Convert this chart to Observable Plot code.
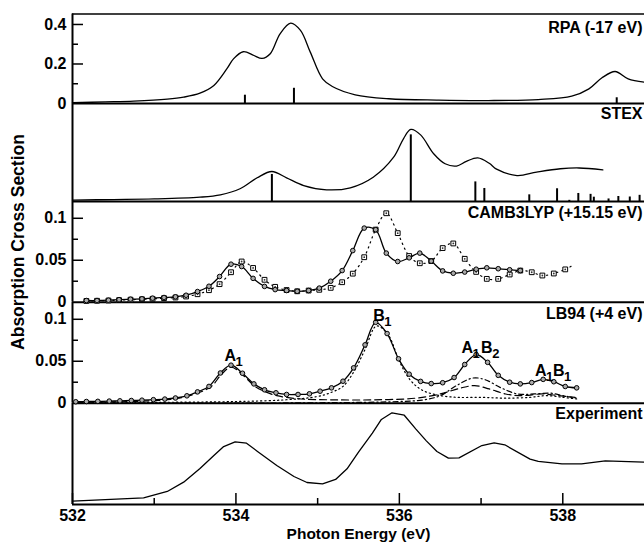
<!DOCTYPE html>
<html><head><meta charset="utf-8">
<script src="https://cdn.jsdelivr.net/npm/d3@7"></script>
<script src="https://cdn.jsdelivr.net/npm/@observablehq/plot@0.6"></script>
<style>
body{margin:0;background:#fff;}
#chart{position:relative;width:644px;height:542px;background:#fff;overflow:hidden;}
#chart svg{position:absolute;left:0;top:0;}
</style></head><body><div id="chart"></div>
<script>
// ---------- DATA ----------
const panelNames = ["RPA (-17 eV)", "STEX", "CAMB3LYP (+15.15 eV)", "LB94 (+4 eV)", "Experiment"];
const yTitle = "Absorption Cross Section";
const xTitle = "Photon Energy (eV)";
const xTickLabels = [532, 534, 536, 538];
const xMinorTicks = [533, 535, 537];

// RPA
const rpaE = [532.0, 532.4, 532.75, 533.16, 533.36, 533.56, 533.73, 533.89, 533.97, 534.09, 534.22, 534.32, 534.42, 534.54, 534.67, 534.79, 534.91, 535.06, 535.18, 535.46, 535.87, 536.48, 537.09, 537.7, 538.11, 538.32, 538.48, 538.64, 538.8, 539.0];
const rpaY = [0.004, 0.008, 0.012, 0.022, 0.032, 0.052, 0.091, 0.176, 0.226, 0.262, 0.243, 0.228, 0.252, 0.353, 0.407, 0.37, 0.26, 0.125, 0.086, 0.044, 0.024, 0.017, 0.015, 0.02, 0.037, 0.074, 0.13, 0.162, 0.125, 0.108];
const rpaStickE = [534.11, 534.71, 538.66];
const rpaStickY = [0.042, 0.077, 0.029];
const rpaTicks = [0, 0.2, 0.4];
const rpaMinor = [0.1, 0.3];

// STEX (arbitrary units)
const stexE = [532.0, 532.5, 533.0, 533.56, 533.81, 534.05, 534.26, 534.44, 534.62, 534.83, 535.11, 535.4, 535.68, 535.93, 536.05, 536.14, 536.26, 536.42, 536.56, 536.7, 536.82, 536.96, 537.1, 537.19, 537.44, 537.68, 537.97, 538.2, 538.49];
const stexY = [0.015, 0.02, 0.026, 0.044, 0.068, 0.13, 0.242, 0.306, 0.242, 0.163, 0.119, 0.14, 0.248, 0.452, 0.64, 0.735, 0.68, 0.487, 0.385, 0.362, 0.41, 0.445, 0.39, 0.33, 0.265, 0.3, 0.334, 0.342, 0.323];
const stexStickE = [534.44, 536.14, 536.93, 537.04, 537.59, 537.93, 538.08, 538.19, 538.34, 538.38, 538.56, 538.68, 538.82, 538.94];
const stexStickY = [0.276, 0.68, 0.2, 0.133, 0.068, 0.13, 0.012, 0.082, 0.073, 0.044, 0.026, 0.051, 0.046, 0.063];

// CAMB3LYP
const cambE = [532.17, 532.30, 532.44, 532.57, 532.71, 532.85, 532.98, 533.12, 533.26, 533.39, 533.53, 533.67, 533.80, 533.94, 534.07, 534.21, 534.35, 534.48, 534.62, 534.75, 534.89, 535.02, 535.16, 535.30, 535.43, 535.57, 535.71, 535.84, 535.98, 536.12, 536.25, 536.39, 536.53, 536.66, 536.80, 536.94, 537.07, 537.21, 537.35, 537.48];
const cambCircle = [0.002, 0.002, 0.0024, 0.003, 0.0036, 0.004, 0.0048, 0.0056, 0.0064, 0.0083, 0.0127, 0.019, 0.0306, 0.0453, 0.0425, 0.0284, 0.0188, 0.015, 0.0139, 0.013, 0.0139, 0.0168, 0.025, 0.0377, 0.0615, 0.0883, 0.0864, 0.0585, 0.0485, 0.0529, 0.0585, 0.049, 0.0373, 0.0345, 0.0359, 0.0393, 0.041, 0.0399, 0.0387, 0.0377];
const cambSqE = [532.17, 532.30, 532.44, 532.57, 532.71, 532.85, 532.98, 533.12, 533.26, 533.39, 533.53, 533.67, 533.80, 533.94, 534.07, 534.21, 534.35, 534.48, 534.62, 534.75, 534.89, 535.02, 535.16, 535.30, 535.43, 535.57, 535.71, 535.84, 535.98, 536.12, 536.25, 536.39, 536.53, 536.66, 536.80, 536.94, 537.07, 537.21, 537.35, 537.48, 537.62, 537.75, 537.89, 538.03];
const cambSquare = [0.0015, 0.0017, 0.002, 0.0025, 0.003, 0.0035, 0.004, 0.0048, 0.0056, 0.0068, 0.0095, 0.0143, 0.0215, 0.0357, 0.0485, 0.0408, 0.0267, 0.0183, 0.0145, 0.013, 0.0139, 0.0148, 0.0171, 0.0238, 0.034, 0.0536, 0.0865, 0.106, 0.0823, 0.055, 0.0464, 0.049, 0.0645, 0.07, 0.0517, 0.0361, 0.0278, 0.0278, 0.033, 0.0377, 0.0357, 0.0318, 0.0342, 0.0391];
const cambSqTailE = [538.03, 538.12];
const cambSqTailY = [0.0391, 0.0437];
const smallTicks = [0, 0.05, 0.1];
const smallMinor = [0.025, 0.075];

// LB94
const lbE = [532.04, 532.17, 532.31, 532.45, 532.58, 532.72, 532.85, 532.99, 533.13, 533.26, 533.40, 533.53, 533.67, 533.81, 533.94, 534.08, 534.22, 534.35, 534.49, 534.62, 534.76, 534.90, 535.03, 535.17, 535.31, 535.44, 535.58, 535.71, 535.85, 535.99, 536.12, 536.26, 536.39, 536.53, 536.67, 536.80, 536.94, 537.08, 537.21, 537.35, 537.48, 537.62, 537.76, 537.89, 538.03, 538.17];
const lbTotal = [0.0017, 0.002, 0.0022, 0.0025, 0.0028, 0.0032, 0.0036, 0.0042, 0.0049, 0.0062, 0.0088, 0.0135, 0.02, 0.036, 0.0453, 0.0357, 0.023, 0.016, 0.0124, 0.0104, 0.0104, 0.0112, 0.0143, 0.0183, 0.0262, 0.0421, 0.0695, 0.0964, 0.083, 0.0529, 0.0346, 0.026, 0.0234, 0.0244, 0.0306, 0.0461, 0.058, 0.0487, 0.0332, 0.025, 0.023, 0.0246, 0.0284, 0.0256, 0.0199, 0.0183];
const lbA1E = [532.04, 533.0, 533.3, 533.5, 533.7, 533.82, 533.94, 534.08, 534.22, 534.35, 534.5, 534.8, 535.2, 535.7, 536.2, 536.5, 536.75, 536.92, 537.1, 537.3, 537.5, 537.75, 537.95, 538.15];
const lbA1Y = [0.001, 0.003, 0.006, 0.011, 0.02, 0.034, 0.043, 0.034, 0.021, 0.014, 0.009, 0.005, 0.004, 0.004, 0.006, 0.011, 0.018, 0.021, 0.017, 0.011, 0.009, 0.011, 0.009, 0.007];
const lbB1E = [532.04, 533.0, 534.0, 534.6, 535.0, 535.17, 535.31, 535.44, 535.58, 535.72, 535.86, 536.0, 536.13, 536.27, 536.45, 536.7, 537.0, 537.3, 537.6, 537.8, 538.0, 538.17];
const lbB1Y = [0.0005, 0.001, 0.002, 0.004, 0.008, 0.013, 0.02, 0.037, 0.064, 0.092, 0.082, 0.05, 0.028, 0.016, 0.01, 0.007, 0.007, 0.006, 0.007, 0.009, 0.007, 0.005];
const lbB2E = [532.04, 535.0, 536.0, 536.3, 536.5, 536.7, 536.9, 537.05, 537.25, 537.45, 537.65, 537.85, 538.0, 538.17];
const lbB2Y = [0, 0.0005, 0.002, 0.004, 0.009, 0.021, 0.03, 0.028, 0.018, 0.011, 0.011, 0.012, 0.009, 0.006];
const lbNoteE = [533.93, 535.75, 536.83, 537.07, 537.73, 537.95];
const lbNoteY = [0.056, 0.1044, 0.0657, 0.0657, 0.038, 0.038];
const lbNoteBase = ["A", "B", "A", "B", "A", "B"];
const lbNoteSub = ["1", "1", "1", "2", "1", "1"];

// Experiment (arbitrary units)
const expE = [532.0, 532.87, 533.16, 533.36, 533.56, 533.73, 533.85, 533.99, 534.13, 534.26, 534.5, 534.71, 534.87, 535.06, 535.22, 535.36, 535.5, 535.67, 535.78, 535.91, 536.06, 536.2, 536.33, 536.46, 536.6, 536.73, 537.01, 537.16, 537.29, 537.6, 537.7, 537.99, 538.23, 538.52, 539.0];
const expY = [0.033, 0.066, 0.129, 0.221, 0.356, 0.485, 0.574, 0.62, 0.607, 0.528, 0.386, 0.277, 0.218, 0.205, 0.248, 0.353, 0.518, 0.706, 0.842, 0.908, 0.884, 0.749, 0.63, 0.525, 0.459, 0.462, 0.584, 0.611, 0.591, 0.449, 0.426, 0.403, 0.403, 0.432, 0.419];

// ---------- DRAWING ----------
const W = 644, H = 542, ML = 72, FW = W - ML;
const FONT = '"Liberation Sans", Arial, Helvetica, sans-serif';
const pts = (xs, ys) => xs.map((x, i) => ({x, y: ys[i]}));

function panel(top, bottom, yDomain, marks) {
  return Plot.plot({
    width: W, height: H,
    marginLeft: ML, marginRight: 0, marginTop: top, marginBottom: H - bottom,
    x: {domain: [532, 539], axis: null},
    y: {domain: yDomain, axis: null},
    style: {background: "transparent", overflow: "visible", fontFamily: FONT, color: "black"},
    marks
  });
}
const frame = () => [
  Plot.ruleX([532], {stroke: "black", strokeWidth: 2}),
  Plot.ruleY([0], {stroke: "black", strokeWidth: 2})
];
const yTicks = (major, minor, labels) => [
  Plot.tickY(major, {y: d => d, insetRight: FW - 11, stroke: "black", strokeWidth: 1.5}),
  Plot.tickY(minor, {y: d => d, insetRight: FW - 6, stroke: "black", strokeWidth: 1.5}),
  Plot.axisY(labels, {tickSize: 0, tickPadding: 6, tickFormat: d => String(d), fontSize: 16, fontWeight: "bold", fontFamily: FONT, label: null})
];
const label = (i, dy) => Plot.text([panelNames[i]], {text: d => d, frameAnchor: "top-right", textAnchor: "end", lineAnchor: "middle", dx: -2, dy, fontSize: 16, fontWeight: "bold", fontFamily: FONT});
const curve = (data, opts = {}) => Plot.line(data, {x: "x", y: "y", stroke: "black", strokeWidth: 1.3, curve: "catmull-rom", ...opts});

const chart = document.getElementById("chart");

// Panel 1: RPA
chart.append(panel(13.5, 103, [0, 0.453], [
  Plot.ruleY([0.453], {stroke: "black", strokeWidth: 1.5}),
  ...frame(),
  ...yTicks([0.2, 0.4], rpaMinor, rpaTicks),
  curve(pts(rpaE, rpaY)),
  Plot.ruleX(pts(rpaStickE, rpaStickY), {x: "x", y1: 0, y2: "y", stroke: "black", strokeWidth: 2}),
  label(0, 13.5)
]));

// Panel 2: STEX
chart.append(panel(103, 201, [0, 1], [
  ...frame(),
  curve(pts(stexE, stexY)),
  Plot.ruleX(pts(stexStickE, stexStickY), {x: "x", y1: 0, y2: "y", stroke: "black", strokeWidth: 2}),
  label(1, 10.3)
]));

// Panel 3: CAMB3LYP
const camC = pts(cambE, cambCircle), camS = pts(cambSqE, cambSquare);
chart.append(panel(201, 301.7, [0, 0.12], [
  ...frame(),
  ...yTicks([0.05, 0.1], smallMinor, smallTicks),
  curve(camS, {strokeDasharray: "1.3,4", strokeWidth: 1.2}),
  curve(pts(cambSqTailE, cambSqTailY), {strokeDasharray: "1.3,4", strokeWidth: 1.2, curve: "linear"}),
  curve(camC),
  Plot.dot(camS, {x: "x", y: "y", symbol: "square", r: 2.7, stroke: "black", strokeWidth: 1, fill: "white"}),
  Plot.dot(camS, {x: "x", y: "y", r: 0.9, fill: "#333"}),
  Plot.dot(camC, {x: "x", y: "y", r: 2.3, stroke: "black", strokeWidth: 1, fill: "#aaa"}),
  label(2, 11.5)
]));

// Panel 4: LB94
const lbC = pts(lbE, lbTotal);
const notes = lbNoteE.map((x, i) => ({x, y: lbNoteY[i], base: lbNoteBase[i], sub: lbNoteSub[i]}));
chart.append(panel(302, 402.7, [0, 0.12], [
  ...frame(),
  ...yTicks([0.05, 0.1], smallMinor, smallTicks),
  curve(pts(lbB1E, lbB1Y), {strokeDasharray: "1.2,3", strokeWidth: 1.2}),
  curve(pts(lbA1E, lbA1Y), {strokeDasharray: "7,4", strokeWidth: 1.2}),
  curve(pts(lbB2E, lbB2Y), {strokeDasharray: "5,3,1.2,3", strokeWidth: 1.2}),
  curve(lbC),
  Plot.dot(lbC, {x: "x", y: "y", r: 2.3, stroke: "black", strokeWidth: 1, fill: "#aaa"}),
  Plot.text(notes, {x: "x", y: "y", text: "base", fontSize: 16, fontWeight: "bold", fontFamily: FONT, lineAnchor: "middle"}),
  Plot.text(notes, {x: "x", y: "y", text: "sub", dx: 9, dy: 6, fontSize: 13, fontWeight: "bold", fontFamily: FONT, lineAnchor: "middle"}),
  label(3, 11.3)
]));

// Panel 5: Experiment + x axis
chart.append(panel(403, 504, [0, 1], [
  ...frame(),
  Plot.tickX(xTickLabels, {x: d => d, insetTop: 101 - 11, stroke: "black", strokeWidth: 1.5}),
  Plot.tickX(xMinorTicks, {x: d => d, insetTop: 101 - 6, stroke: "black", strokeWidth: 1.5}),
  Plot.axisX(xTickLabels, {tickSize: 0, tickPadding: 5.5, tickFormat: d => String(d), fontSize: 16, fontWeight: "bold", fontFamily: FONT, label: null}),
  Plot.text([xTitle], {text: d => d, frameAnchor: "bottom", dy: 29.5, lineAnchor: "middle", fontSize: 15.5, fontWeight: "bold", fontFamily: FONT}),
  curve(pts(expE, expY), {curve: "linear"}),
  label(4, 10.3)
]));

// Y title
const yl = document.createElement("div");
yl.textContent = yTitle;
Object.assign(yl.style, {
  position: "absolute", left: (18 - 150) + "px", top: (241.5 - 10) + "px",
  width: "300px", height: "20px", lineHeight: "20px", textAlign: "center",
  transform: "rotate(-90deg)", fontWeight: "bold", fontSize: "17.5px", fontFamily: FONT, color: "black"
});
chart.append(yl);
</script></body></html>
